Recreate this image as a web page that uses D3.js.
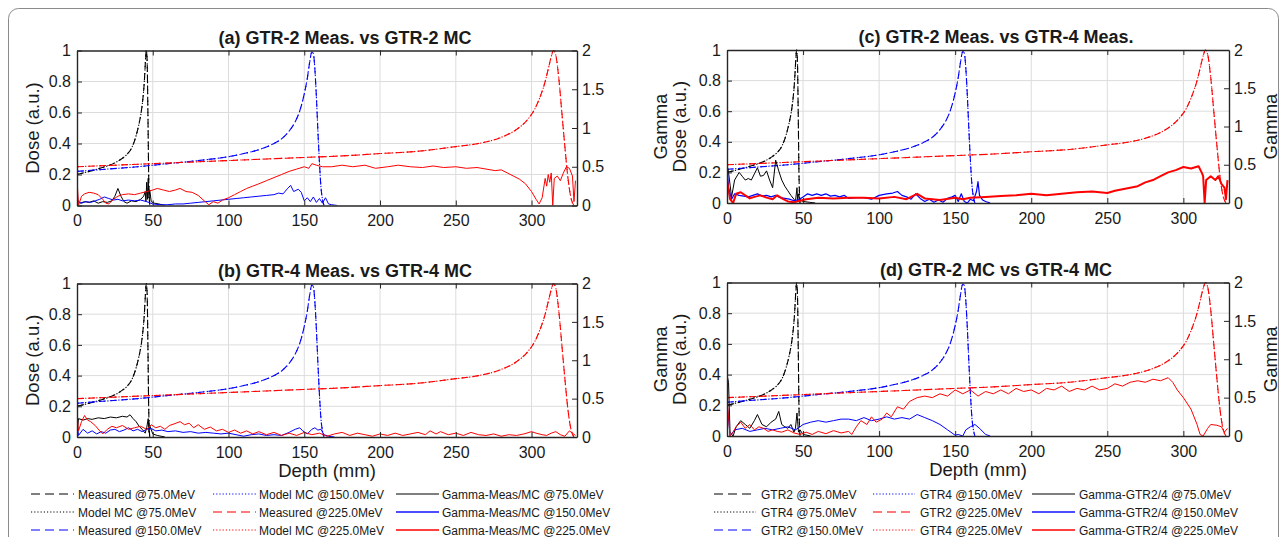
<!DOCTYPE html>
<html><head><meta charset="utf-8">
<script src="https://cdn.jsdelivr.net/npm/d3@7/dist/d3.min.js"></script>
<style>
body{margin:0;background:#fff;}
text{font-family:"Liberation Sans",Arial,Helvetica,sans-serif;fill:#1a1a1a;}
</style></head><body>
<svg id="c" width="1287" height="537"></svg>
<script>
// ---------- data ----------
const xTicks = [0,50,100,150,200,250,300];
const yTicksDose = [0,0.2,0.4,0.6,0.8,1];
const yTicksGamma = [0,0.5,1,1.5,2];
const yTickLabelsGamma = ["0","0.5","1","1.5","2"];

const depth75  = [0,5,10,15,20,25,30,33,36,39,41,42.5,43.5,44.3,45,45.4,45.8,46.3,46.8,47.3,48];
const dose75   = [0.200,0.212,0.225,0.240,0.255,0.275,0.305,0.33,0.37,0.45,0.53,0.61,0.69,0.78,0.90,0.97,1.0,0.93,0.6,0.2,0.0];
const depth150 = [0,20,40,60,80,100,110,120,130,135,140,144,147,150,152,153.5,155,156,157,158,159,160,161,162,163];
const dose150   = [0.22,0.235,0.25,0.27,0.29,0.315,0.335,0.36,0.40,0.43,0.48,0.54,0.61,0.72,0.82,0.92,0.99,0.98,0.88,0.70,0.48,0.28,0.12,0.04,0.0];
const depth225 = [0,25,50,75,100,125,150,175,200,225,250,265,280,290,297,302,306,309,311,313,314.5,316,318,320,322,324,326,328];
const dose225   = [0.25,0.26,0.27,0.28,0.29,0.30,0.31,0.32,0.335,0.35,0.38,0.40,0.44,0.49,0.55,0.62,0.71,0.80,0.88,0.96,1.0,0.97,0.82,0.6,0.38,0.18,0.05,0.0];

// gamma curves [depth, gamma]
const gammaA75 = [[0,0.08],[2,0.03],[5,0.05],[8,0.04],[11,0.06],[14,0.03],[17,0.05],[20,0.04],[23,0.06],[25,0.12],[27,0.22],[29,0.12],[31,0.05],[33,0.03],[36,0.06],[39,0.05],[42,0.08],[44,0.12],[45,0.18],[45.5,0.05],[46,0.3],[46.5,0.08],[47,0.35],[47.5,0.1],[48,0.2],[49,0.05],[51,0.03],[54,0.02],[58,0.0]];
const gammaA150 = [[0,0.4],[0.5,0.05],[3,0.03],[6,0.05],[9,0.04],[12,0.06],[15,0.08],[18,0.11],[21,0.09],[24,0.07],[27,0.08],[30,0.06],[34,0.07],[38,0.06],[42,0.07],[46,0.05],[50,0.02],[55,0.01],[60,0.01],[65,0.02],[70,0.02],[75,0.03],[80,0.04],[85,0.05],[90,0.06],[95,0.07],[100,0.08],[105,0.09],[110,0.1],[115,0.11],[120,0.12],[125,0.13],[130,0.14],[133,0.16],[136,0.15],[139,0.22],[141,0.26],[143,0.18],[146,0.21],[148,0.17],[150,0.06],[152,0.1],[154,0.05],[156,0.11],[158,0.04],[160,0.09],[162,0.03],[164,0.1],[166,0.02],[168,0.01],[172,0.0]];
const gammaA225 = [[0,0.34],[1,0.0],[3,0.12],[5,0.15],[8,0.17],[11,0.16],[14,0.14],[17,0.08],[19,0.03],[21,0.02],[24,0.08],[27,0.12],[30,0.14],[34,0.15],[38,0.14],[42,0.16],[46,0.18],[50,0.2],[53,0.22],[57,0.2],[61,0.18],[65,0.2],[68,0.22],[72,0.18],[76,0.17],[80,0.13],[84,0.06],[87,0.01],[90,0.05],[93,0.03],[96,0.07],[100,0.1],[104,0.14],[108,0.18],[112,0.22],[116,0.25],[120,0.28],[125,0.32],[130,0.36],[135,0.4],[140,0.44],[145,0.47],[150,0.5],[153,0.48],[155,0.54],[158,0.52],[162,0.5],[168,0.5],[175,0.52],[182,0.5],[190,0.52],[197,0.48],[205,0.5],[212,0.52],[220,0.5],[228,0.49],[235,0.51],[242,0.49],[250,0.5],[257,0.48],[264,0.49],[270,0.47],[276,0.45],[280,0.46],[284,0.42],[288,0.38],[292,0.34],[296,0.28],[300,0.18],[303,0.08],[305,0.02],[307,0.1],[309,0.35],[310,0.25],[311,0.4],[312,0.3],[313,0.42],[314,0.0],[315,0.35],[317,0.38],[319,0.32],[321,0.42],[323,0.5],[325,0.48],[327,0.38],[328,0.05],[329,0.32]];

const gammaB75 = [[0,0.05],[1,0.24],[4,0.22],[7,0.24],[10,0.23],[14,0.25],[18,0.24],[22,0.26],[26,0.25],[30,0.27],[33,0.26],[35,0.29],[37,0.24],[39,0.2],[41,0.14],[43,0.1],[45,0.05],[46,0.12],[47,0.24],[47.5,0.06],[48,0.15],[50,0.04],[53,0.02],[58,0.0]];
const gammaB150 = [[0,0.2],[1,0.02],[4,0.1],[7,0.05],[10,0.08],[13,0.04],[16,0.07],[19,0.05],[22,0.09],[25,0.1],[28,0.07],[31,0.09],[34,0.12],[37,0.08],[40,0.1],[43,0.07],[46,0.1],[49,0.11],[52,0.08],[56,0.09],[60,0.07],[65,0.08],[70,0.06],[75,0.07],[80,0.05],[85,0.06],[90,0.05],[95,0.04],[100,0.05],[105,0.03],[110,0.01],[115,0.03],[120,0.04],[125,0.02],[130,0.03],[135,0.02],[140,0.06],[144,0.1],[147,0.12],[149,0.08],[152,0.04],[155,0.1],[157,0.12],[159,0.09],[161,0.1],[163,0.03],[166,0.01],[170,0.0]];
const gammaB225 = [[0,0.3],[1,0.08],[3,0.2],[5,0.28],[7,0.22],[9,0.2],[12,0.15],[15,0.08],[17,0.04],[20,0.1],[23,0.14],[26,0.12],[30,0.15],[34,0.1],[38,0.12],[42,0.14],[46,0.1],[49,0.16],[52,0.12],[55,0.14],[58,0.1],[61,0.15],[64,0.17],[68,0.2],[71,0.16],[74,0.18],[77,0.12],[80,0.16],[84,0.1],[88,0.13],[92,0.08],[96,0.1],[100,0.06],[104,0.09],[108,0.05],[112,0.08],[116,0.04],[120,0.07],[125,0.03],[130,0.06],[135,0.02],[140,0.05],[145,0.02],[150,0.06],[155,0.03],[160,0.05],[165,0.01],[170,0.04],[175,0.06],[180,0.02],[185,0.05],[190,0.03],[195,0.01],[200,0.04],[205,0.02],[210,0.05],[215,0.02],[220,0.04],[225,0.06],[230,0.03],[233,0.08],[237,0.04],[240,0.07],[245,0.03],[250,0.05],[255,0.02],[260,0.06],[265,0.03],[270,0.02],[275,0.04],[280,0.01],[285,0.03],[290,0.02],[295,0.04],[300,0.07],[303,0.05],[307,0.03],[310,0.02],[313,0.05],[316,0.07],[319,0.03],[322,0.01],[325,0.08],[327,0.05],[329,0.02]];

const gammaC75 = [[0,0.5],[1,0.4],[3,0.08],[5,0.3],[8,0.4],[10,0.35],[12,0.3],[14,0.32],[16,0.3],[18,0.38],[20,0.46],[22,0.35],[24,0.36],[26,0.42],[28,0.3],[30,0.2],[32,0.56],[34,0.42],[36,0.3],[38,0.22],[40,0.16],[42,0.1],[44,0.05],[45,0.02],[46,0.2],[46.5,0.02],[47,0.12],[48,0.04],[50,0.02],[54,0.01],[58,0.0]];
const gammaC150 = [[0,0.5],[1,0.2],[3,0.05],[5,0.12],[8,0.1],[11,0.09],[14,0.08],[17,0.1],[20,0.12],[23,0.09],[26,0.1],[29,0.08],[32,0.1],[35,0.07],[38,0.06],[41,0.05],[44,0.03],[47,0.04],[50,0.08],[53,0.12],[56,0.1],[59,0.12],[62,0.1],[65,0.12],[68,0.09],[71,0.1],[74,0.08],[77,0.1],[80,0.06],[85,0.07],[90,0.07],[95,0.05],[100,0.1],[105,0.12],[109,0.13],[112,0.15],[115,0.1],[118,0.08],[121,0.05],[124,0.12],[127,0.06],[130,0.02],[133,0.05],[136,0.01],[139,0.04],[142,0.01],[145,0.06],[148,0.08],[150,0.1],[152,0.02],[154,0.12],[156,0.02],[158,0.0],[160,0.05],[162,0.03],[164,0.15],[165,0.28],[166,0.1],[168,0.04],[170,0.02],[173,0.0]];
const gammaC225 = [[0,0.3],[2,0.05],[4,0.0],[6,0.12],[9,0.14],[12,0.1],[15,0.06],[18,0.08],[22,0.1],[26,0.07],[30,0.05],[33,0.1],[37,0.05],[40,0.02],[44,0.01],[48,0.03],[52,0.05],[60,0.07],[70,0.06],[80,0.07],[90,0.07],[100,0.06],[110,0.08],[118,0.05],[125,0.12],[130,0.06],[140,0.04],[150,0.07],[155,0.05],[160,0.07],[170,0.08],[180,0.09],[190,0.1],[200,0.12],[210,0.1],[220,0.12],[230,0.14],[240,0.15],[250,0.13],[255,0.16],[260,0.18],[265,0.2],[270,0.22],[275,0.27],[280,0.3],[285,0.35],[290,0.4],[295,0.43],[300,0.47],[305,0.45],[310,0.48],[312,0.4],[313,0.35],[314,0.0],[315,0.3],[318,0.35],[321,0.3],[323,0.35],[325,0.25],[327,0.2],[328,0.05],[329,0.3]];

const gammaD75 = [[0,0.8],[1,0.7],[2,0.05],[4,0.0],[6,0.12],[9,0.2],[12,0.15],[15,0.1],[18,0.2],[20,0.28],[23,0.15],[26,0.12],[29,0.18],[32,0.22],[34,0.32],[36,0.15],[38,0.12],[40,0.1],[42,0.15],[44,0.05],[45,0.1],[46,0.3],[47,0.05],[48,0.08],[50,0.02],[55,0.0]];
const gammaD150 = [[0,0.45],[2,0.0],[5,0.08],[10,0.1],[15,0.06],[20,0.08],[25,0.1],[30,0.08],[35,0.1],[40,0.12],[45,0.08],[48,0.12],[50,0.15],[55,0.18],[60,0.2],[65,0.18],[70,0.2],[75,0.22],[80,0.22],[85,0.2],[90,0.24],[95,0.2],[100,0.22],[105,0.25],[110,0.22],[115,0.24],[120,0.22],[125,0.28],[130,0.24],[135,0.2],[140,0.15],[145,0.08],[150,0.01],[152,0.02],[155,0.0],[157,0.08],[160,0.12],[163,0.15],[166,0.1],[170,0.02],[173,0.0]];
const gammaD225 = [[0,0.5],[2,0.0],[4,0.05],[6,0.12],[9,0.18],[12,0.1],[15,0.15],[18,0.08],[21,0.12],[24,0.1],[27,0.06],[30,0.08],[33,0.06],[36,0.05],[40,0.08],[44,0.04],[48,0.02],[52,0.05],[56,0.02],[60,0.06],[65,0.03],[70,0.07],[75,0.04],[80,0.06],[82,0.02],[85,0.12],[88,0.2],[92,0.15],[95,0.25],[98,0.18],[102,0.22],[105,0.3],[108,0.25],[112,0.38],[116,0.35],[120,0.45],[125,0.5],[130,0.52],[135,0.5],[140,0.55],[145,0.52],[150,0.6],[155,0.55],[160,0.6],[165,0.52],[170,0.58],[175,0.55],[180,0.6],[185,0.55],[190,0.62],[195,0.58],[200,0.6],[205,0.55],[210,0.62],[215,0.6],[220,0.65],[225,0.58],[230,0.62],[235,0.6],[240,0.65],[245,0.6],[250,0.62],[255,0.68],[260,0.65],[265,0.7],[270,0.72],[275,0.7],[280,0.74],[285,0.72],[290,0.76],[293,0.7],[296,0.6],[300,0.5],[305,0.35],[309,0.15],[311,0.02],[313,0.0],[316,0.1],[318,0.15],[322,0.14],[325,0.12],[327,0.05],[329,0.1]];

const legendLeft  = ["Measured @75.0MeV","Model MC @75.0MeV","Measured @150.0MeV","Model MC @150.0MeV","Measured @225.0MeV","Model MC @225.0MeV","Gamma-Meas/MC @75.0MeV","Gamma-Meas/MC @150.0MeV","Gamma-Meas/MC @225.0MeV"];
const legendRight = ["GTR2 @75.0MeV","GTR4 @75.0MeV","GTR2 @150.0MeV","GTR4 @150.0MeV","GTR2 @225.0MeV","GTR4 @225.0MeV","Gamma-GTR2/4 @75.0MeV","Gamma-GTR2/4 @150.0MeV","Gamma-GTR2/4 @225.0MeV"];

// ---------- drawing ----------
const svg = d3.select("#c");
svg.append("rect").attr("x",8.5).attr("y",8.5).attr("width",1270).attr("height",600)
  .attr("rx",10).attr("fill","none").attr("stroke","#8a8a8a").attr("stroke-width",1);

const RED="#ff0000", BLUE="#0000ff", BLK="#000000";
const DASH="7,4", DOT="1.3,2.4";
const doseSets = [
  {d:depth75, v:dose75, c:BLK},
  {d:depth150, v:dose150, c:BLUE},
  {d:depth225, v:dose225, c:RED}
];

const panels = [
  {x0:77, x1:577, y0:50.5, y1:205.5, title:"(a) GTR-2 Meas. vs GTR-2 MC", two:false, xlab:false, g:[gammaA75,gammaA150,gammaA225], gw:[1,1,1]},
  {x0:77, x1:577, y0:283.5, y1:437, title:"(b) GTR-4 Meas. vs GTR-4 MC", two:false, xlab:true, g:[gammaB75,gammaB150,gammaB225], gw:[1,1,1]},
  {x0:727, x1:1229, y0:50, y1:203, title:"(c) GTR-2 Meas. vs GTR-4 Meas.", two:true, xlab:false, g:[gammaC75,gammaC150,gammaC225], gw:[1,1.2,2]},
  {x0:727, x1:1229, y0:282.5, y1:436, title:"(d) GTR-2 MC vs GTR-4 MC", two:true, xlab:true, g:[gammaD75,gammaD150,gammaD225], gw:[1,1,1]}
];

panels.forEach((p,i)=>{
  const x = d3.scaleLinear().domain([0,330]).range([p.x0,p.x1]);
  const yL = d3.scaleLinear().domain([0,1]).range([p.y1,p.y0]);
  const yR = d3.scaleLinear().domain([0,2]).range([p.y1,p.y0]);
  const g = svg.append("g");
  const cid = "clip"+i;
  svg.append("clipPath").attr("id",cid).append("rect")
    .attr("x",p.x0).attr("y",p.y0-1).attr("width",p.x1-p.x0).attr("height",p.y1-p.y0+1);

  // grid
  g.selectAll(".gx").data(xTicks.filter(t=>t>0)).join("line")
    .attr("x1",d=>x(d)).attr("x2",d=>x(d)).attr("y1",p.y0).attr("y2",p.y1)
    .attr("stroke","#dcdcdc").attr("stroke-width",1);
  g.selectAll(".gy").data(yTicksDose.filter(t=>t>0&&t<1)).join("line")
    .attr("y1",d=>yL(d)).attr("y2",d=>yL(d)).attr("x1",p.x0).attr("x2",p.x1)
    .attr("stroke","#dcdcdc").attr("stroke-width",1);

  const plot = g.append("g").attr("clip-path",`url(#${cid})`);
  const doseLine = d3.line().x(d=>x(d[0])).y(d=>yL(d[1])).curve(d3.curveMonotoneX);
  doseSets.forEach(s=>{
    const pts = s.d.map((d,k)=>[d,s.v[k]]);
    plot.append("path").attr("d",doseLine(pts)).attr("fill","none")
      .attr("stroke",s.c).attr("stroke-width",1.1).attr("stroke-dasharray",DASH);
    plot.append("path").attr("d",doseLine(pts)).attr("fill","none")
      .attr("stroke",s.c).attr("stroke-width",1.1).attr("stroke-dasharray",DOT).attr("stroke-dashoffset",3);
  });
  const gLine = d3.line().x(d=>x(d[0])).y(d=>yR(d[1]));
  [BLK,BLUE,RED].forEach((c,k)=>{
    plot.append("path").attr("d",gLine(p.g[k])).attr("fill","none")
      .attr("stroke",c).attr("stroke-width",p.gw[k]).attr("stroke-linejoin","round");
  });

  // axes
  const fs = "16px";
  const ax = g.append("g").attr("transform",`translate(0,${p.y1})`)
    .call(d3.axisBottom(x).tickValues(xTicks).tickFormat(d3.format("d")).tickSizeInner(-5).tickSizeOuter(0).tickPadding(7));
  const axT = g.append("g").attr("transform",`translate(0,${p.y0})`)
    .call(d3.axisTop(x).tickValues(xTicks).tickFormat("").tickSizeInner(-5).tickSizeOuter(0));
  const ayL = g.append("g").attr("transform",`translate(${p.x0},0)`)
    .call(d3.axisLeft(yL).tickValues(yTicksDose).tickFormat(d=>d3.format("~g")(d)).tickSizeInner(-5).tickSizeOuter(0).tickPadding(6));
  const ayR = g.append("g").attr("transform",`translate(${p.x1},0)`)
    .call(d3.axisRight(yR).tickValues(yTicksGamma).tickFormat((d,k)=>yTickLabelsGamma[k]).tickSizeInner(-5).tickSizeOuter(0).tickPadding(5));
  [ax,axT,ayL,ayR].forEach(a=>{
    a.select(".domain").attr("stroke","#262626").attr("stroke-width",1.4);
    a.selectAll(".tick line").attr("stroke","#262626").attr("stroke-width",1);
    a.selectAll("text").style("font-size",fs).attr("fill","#1a1a1a");
  });
  ax.selectAll("text").attr("dy","0.85em");

  // title
  g.append("text").attr("x",(p.x0+p.x1)/2+18).attr("y",p.y0-7).attr("text-anchor","middle")
    .style("font-size","18px").style("font-weight","bold").text(p.title);

  const cy = (p.y0+p.y1)/2;
  if(!p.two){
    g.append("text").attr("transform",`translate(${p.x0-38},${cy}) rotate(-90)`)
      .attr("text-anchor","middle").style("font-size","18.5px").text("Dose (a.u.)");
  } else {
    g.append("text").attr("transform",`translate(${p.x0-60},${cy}) rotate(-90)`)
      .attr("text-anchor","middle").style("font-size","18.5px").text("Gamma");
    g.append("text").attr("transform",`translate(${p.x0-41},${cy}) rotate(-90)`)
      .attr("text-anchor","middle").style("font-size","18.5px").text("Dose (a.u.)");
    g.append("text").attr("transform",`translate(${p.x1+48},${cy}) rotate(-90)`)
      .attr("text-anchor","middle").style("font-size","18.5px").text("Gamma");
  }
  if(p.xlab){
    g.append("text").attr("x",(p.x0+p.x1)/2).attr("y",p.y1+40).attr("text-anchor","middle")
      .style("font-size","18.5px").text("Depth (mm)");
  }
});

// legends
const legStyles = [
  {c:BLK,da:"9,5",w:1},{c:BLK,da:"1.2,2",w:1},{c:BLUE,da:"9,5",w:1},
  {c:BLUE,da:"1.2,2",w:1},{c:"#ff5050",da:"9,5",w:1.3},{c:RED,da:"1.2,2",w:1},
  {c:BLK,da:null,w:1.2},{c:"#4d4dff",da:null,w:2},{c:RED,da:null,w:1.3}
];
function legend(labels, cols, rows){
  const lg = svg.append("g");
  labels.forEach((t,k)=>{
    const ci = Math.floor(k/3), ri = k%3;
    const c = cols[ci], y = rows[ri], s = legStyles[k];
    const ln = lg.append("line").attr("x1",c[0]).attr("x2",c[1]).attr("y1",y).attr("y2",y)
      .attr("stroke",s.c).attr("stroke-width",s.w);
    if(s.da) ln.attr("stroke-dasharray",s.da);
    lg.append("text").attr("x",c[2]).attr("y",y+4.5).style("font-size","12px").text(t);
  });
}
legend(legendLeft, [[31,74,78],[213,256,259],[396,439,442]], [494,512,530]);
legend(legendRight, [[714,756,761],[873,915,920],[1032,1075,1079]], [494,512,530]);
</script>
</body></html>
